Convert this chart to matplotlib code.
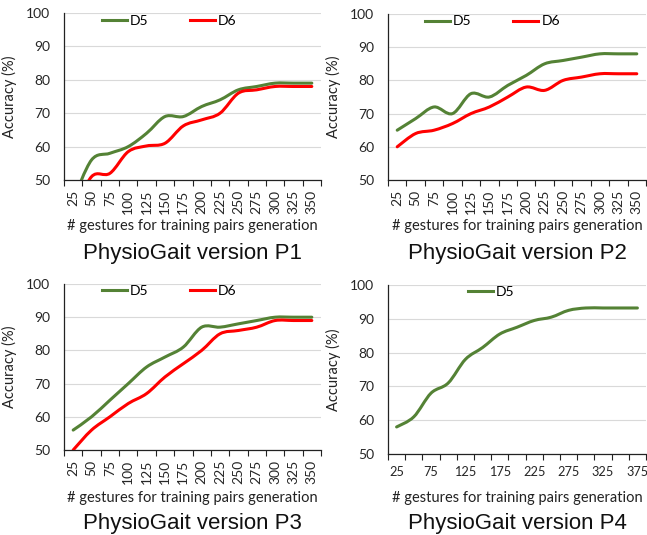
import numpy as np
import matplotlib
matplotlib.use("Agg")
import matplotlib.pyplot as plt
from matplotlib.path import Path
from matplotlib.patches import PathPatch
from matplotlib.lines import Line2D

# ---------------- data ----------------
cats_14 = [25, 50, 75, 100, 125, 150, 175, 200, 225, 250, 275, 300, 325, 350]
cats_15 = [25, 50, 75, 100, 125, 150, 175, 200, 225, 250, 275, 300, 325, 350, 375]

p1_d5 = [44, 56, 58, 60, 64, 69, 69, 72, 74, 77, 78, 79, 79, 79]
p1_d6 = [40, 51, 52, 58.5, 60.2, 61, 66.2, 68, 70, 76, 77, 78, 78, 78]

p2_d5 = [65, 68.5, 72, 70, 76, 75, 78.5, 81.5, 85, 86, 87, 88, 88, 88]
p2_d6 = [60, 64, 65, 67, 70, 72, 75, 78, 77, 80, 81, 82, 82, 82]

p3_d5 = [56, 60, 65, 70, 75, 78, 81, 87, 87, 88, 89, 90, 90, 90]
p3_d6 = [50, 56, 60, 64, 67, 72, 76, 80, 85, 86, 87, 89, 89, 89]

p4_d5 = [58, 61, 68, 71, 78, 81.5, 85.5, 87.5, 89.5, 90.5, 92.5, 93.2, 93.2, 93.2, 93.2]

titles = ["PhysioGait version P1", "PhysioGait version P2",
          "PhysioGait version P3", "PhysioGait version P4"]
xlabel = "# gestures for training pairs generation"
ylabel = "Accuracy (%)"
yticks = [50, 60, 70, 80, 90, 100]

GREEN = "#548235"
RED = "#FF0000"
TICKFONT = "Lato"
TITLEFONT = "Liberation Sans"

W, H = 647, 535
fig = plt.figure(figsize=(W / 100, H / 100), dpi=100)


def smooth_path(xs, ys):
    """Excel-like smoothed line (Catmull-Rom as cubic Bezier)."""
    pts = np.column_stack([xs, ys]).astype(float)
    n = len(pts)
    verts = [pts[0]]
    codes = [Path.MOVETO]
    for i in range(n - 1):
        p0 = pts[i - 1] if i > 0 else pts[i]
        p1 = pts[i]
        p2 = pts[i + 1]
        p3 = pts[i + 2] if i + 2 < n else pts[i + 1]
        c1 = p1 + (p2 - p0) / 6.0
        c2 = p2 - (p3 - p1) / 6.0
        verts += [c1, c2, p2]
        codes += [Path.CURVE4] * 3
    return Path(verts, codes)


def make_axes(px_left, px_right, px_top, px_bottom):
    return fig.add_axes([px_left / W, (H - px_bottom) / H,
                         (px_right - px_left) / W, (px_bottom - px_top) / H])


panels = [
    dict(rect=(64, 321, 13, 180), cats=cats_14, series=[("D5", p1_d5, GREEN), ("D6", p1_d6, RED)],
         rot=90, step=1, leg=(0.147, 0.955), xl_y=226, ti_y=254, xpad=7, xfs=10),
    dict(rect=(388, 646, 14, 180), cats=cats_14, series=[("D5", p2_d5, GREEN), ("D6", p2_d6, RED)],
         rot=90, step=1, leg=(0.145, 0.955), xl_y=226, ti_y=254, xpad=7, xfs=10),
    dict(rect=(64, 321, 284, 450), cats=cats_14, series=[("D5", p3_d5, GREEN), ("D6", p3_d6, RED)],
         rot=90, step=1, leg=(0.147, 0.958), xl_y=498, ti_y=524, xpad=7, xfs=10),
    dict(rect=(388, 646, 285, 454), cats=cats_15, series=[("D5", p4_d5, GREEN)],
         rot=0, step=2, leg=(0.31, 0.958), xl_y=498, ti_y=524, xpad=9, xfs=9.2),
]

for k, pnl in enumerate(panels):
    l, r, t, b = pnl["rect"]
    ax = make_axes(l, r, t, b)
    cats = pnl["cats"]
    n = len(cats)
    xs = np.arange(n)
    handles = []
    for name, vals, col in pnl["series"]:
        patch = PathPatch(smooth_path(xs, vals), fill=False, edgecolor=col,
                          lw=2.2, capstyle="round", joinstyle="round", zorder=3)
        ax.add_patch(patch)
        handles.append(Line2D([], [], color=col, lw=2.2, label=name))
    ax.set_xlim(-0.5, n - 0.5)
    ax.set_ylim(50, 100)
    ax.set_yticks(yticks)
    ax.set_yticklabels([str(v) for v in yticks], fontfamily=TICKFONT, fontsize=10, color="#262626")
    ax.tick_params(axis="y", length=0, pad=10)
    pos = xs[::pnl["step"]]
    ax.set_xticks(pos)
    ax.set_xticklabels([str(cats[i]) for i in pos], rotation=pnl["rot"],
                       fontfamily=TICKFONT, fontsize=pnl["xfs"], color="#262626")
    ax.tick_params(axis="x", which="major", length=0, pad=pnl["xpad"])
    ax.set_xticks(np.arange(-0.5, n, 1.0), minor=True)
    ax.tick_params(axis="x", which="minor", length=4, width=0.8, color="#222222", direction="out")
    ax.grid(axis="y", color="#d9d9d9", lw=0.8, zorder=0)
    ax.set_axisbelow(True)
    for s in ("top", "right"):
        ax.spines[s].set_visible(False)
    for s in ("left", "bottom"):
        ax.spines[s].set_color("#222222")
        ax.spines[s].set_linewidth(0.9)

    ax.set_ylabel(ylabel, fontfamily=TICKFONT, fontsize=10.5, color="#222222")
    ax.yaxis.set_label_coords(-47.0 / (r - l), 0.5)
    leg = ax.legend(handles=handles, ncol=2, loc="center left", bbox_to_anchor=pnl["leg"],
                    frameon=False, fontsize=10, handlelength=1.8, handletextpad=0.2,
                    columnspacing=3.0, borderpad=0, borderaxespad=0)
    for txt in leg.get_texts():
        txt.set_fontfamily(TICKFONT)

    cx = ((l + r) / 2) / W
    fig.text(cx, 1 - pnl["xl_y"] / H, xlabel, ha="center", va="center",
             fontfamily=TICKFONT, fontsize=10.5, color="#222222")
    fig.text(cx, 1 - pnl["ti_y"] / H, titles[k], ha="center", va="center",
             fontfamily=TITLEFONT, fontsize=16, color="#111111")

fig.savefig("out.png", dpi=100)
